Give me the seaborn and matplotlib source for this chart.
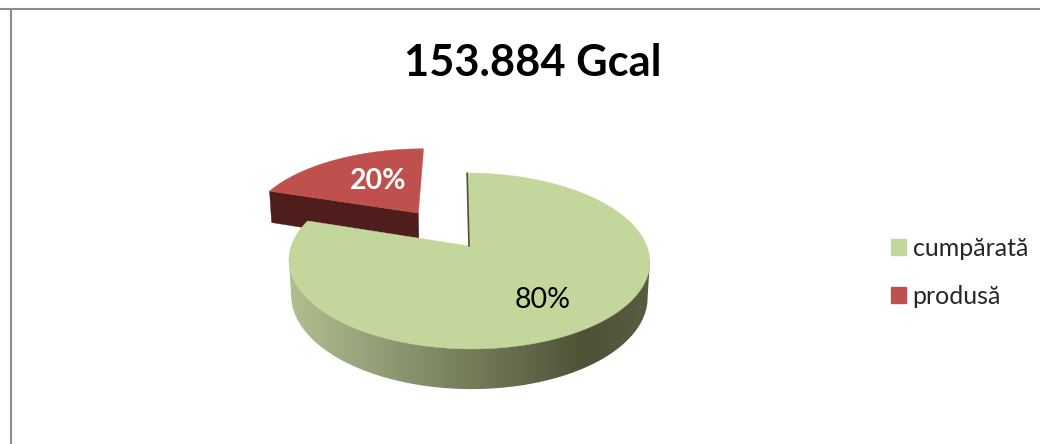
import matplotlib
matplotlib.use('Agg')
import matplotlib.pyplot as plt
from matplotlib.colors import LinearSegmentedColormap
from matplotlib.patches import Patch
import numpy as np
import seaborn as sns

title = '153.884 Gcal'
categories = ['cumpărată', 'produsă']
values = [80, 20]
explode = [0, 0.51]

top_colors = ['#C3D69B', '#C0504D']
red_wall = '#4F1E1C'
green_wall = [(0.0, '#B0BF91'), (0.82, '#4E5238'), (1.0, '#585C41')]

sns.set_theme(style='white')
plt.rcParams['font.family'] = ['Lato', 'DejaVu Sans']

# perspective of the fake 3d disc, fitted by eye on the reference
APEX_X, APEX_Y = 469, 246
SX, SY, SHEAR, PERSP = 177.8, 85.4, 2.2, 0.1705
DROP, DROP_W = 35, 0.012


def project(pts, bottom=False):
    x, y = pts[:, 0], pts[:, 1]
    w = 1 + PERSP * y + (DROP_W if bottom else 0)
    px = APEX_X + (SX * x - SHEAR * y) / w
    py = APEX_Y - (SY * y - (DROP if bottom else 0)) / w
    return np.column_stack([px, py])


def outline(wedge, n=360):
    t = np.radians(np.linspace(wedge.theta1, wedge.theta2, n))
    cx, cy = wedge.center
    arc = np.column_stack([cx + wedge.r * np.cos(t), cy + wedge.r * np.sin(t)])
    return arc, np.array([[cx, cy]])


fig = plt.figure(figsize=(10.4, 4.44), dpi=100)
ax = fig.add_axes([0, 0, 1, 1])

# let pie work out the angles and the explode offset, then redraw in perspective
wedges, _ = ax.pie(values, explode=explode, startangle=90, counterclock=False)
shapes = [outline(w) for w in wedges]
for w in wedges:
    w.remove()
ax.set_aspect('auto')
ax.set_xlim(0, 1040)
ax.set_ylim(444, 0)
ax.axis('off')

# exploded slice goes behind, only the face from its left corner to the apex shows
arc, apex = shapes[1]
ring = np.vstack([apex, arc])
top, low = project(ring), project(ring, bottom=True)
ax.fill([top[-1, 0], top[0, 0], low[0, 0], low[-1, 0]],
        [top[-1, 1], top[0, 1], low[0, 1], low[-1, 1]],
        color=red_wall, lw=0.3, zorder=1)
ax.fill(top[:, 0], top[:, 1], color=top_colors[1], lw=0.3, zorder=2)

# main slice, side wall has a left to right gradient
arc, apex = shapes[0]
top_arc, low_arc = project(arc), project(arc, bottom=True)
i0, i1 = top_arc[:, 0].argmin(), top_arc[:, 0].argmax()
j0, j1 = low_arc[:, 0].argmin(), low_arc[:, 0].argmax()
wall = np.vstack([top_arc[[i0]], low_arc[j0:j1 + 1], top_arc[[i1]]])
cmap = LinearSegmentedColormap.from_list('wall', green_wall)
grad = np.linspace(0, 1, 256).reshape(1, -1)
im = ax.imshow(grad, cmap=cmap, extent=[289, 651, 400, 200], aspect='auto', zorder=3)
clip = plt.Polygon(wall, closed=True, transform=ax.transData, fill=False, lw=0)
ax.add_patch(clip)
im.set_clip_path(clip)

ring = np.vstack([apex, arc])
top = project(ring)
ax.fill(top[:, 0], top[:, 1], color=top_colors[0], lw=0.3, zorder=4)
# thin sliver of the wall next to the start edge
ax.plot([top[0, 0], top[-1, 0]], [top[0, 1], top[-1, 1]], color='#4E5238', lw=1.2, zorder=5)
ax.set_xlim(0, 1040)
ax.set_ylim(444, 0)

ax.text(378, 180.5, f'{values[1]}%', color='white', fontsize=20.5, fontweight='bold',
        ha='center', va='center', zorder=6)
ax.text(543, 300, f'{values[0]}%', color='black', fontsize=20.5,
        ha='center', va='center', zorder=6)
ax.text(533, 63.5, title, color='black', fontsize=31.2, fontweight='bold',
        ha='center', va='center', zorder=6)

handles = [Patch(color=c, label=l) for c, l in zip(top_colors, categories)]
ax.legend(handles=handles, loc='center left', bbox_to_anchor=(868, 272),
          bbox_transform=ax.transData, frameon=False, fontsize=18,
          handlelength=0.6, handleheight=0.6, handletextpad=0.28, labelspacing=1.0)

# frame lines of the original document
ax.plot([0, 1040], [9.5, 9.5], color='#8C8C8C', lw=1.5, zorder=7)
ax.plot([10.5, 10.5], [9.5, 444], color='#8C8C8C', lw=1.5, zorder=7)

fig.savefig('out.png', dpi=100)
